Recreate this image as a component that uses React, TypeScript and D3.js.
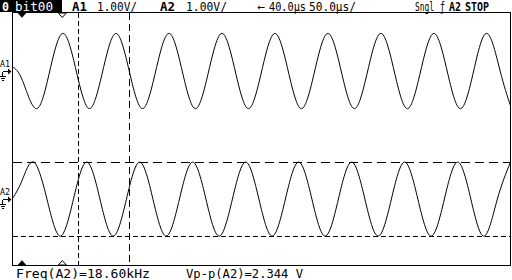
import React from "react";
import * as d3 from "d3";

// ---- data (time in µs, voltage in V) ----
const a1Time = [0, 10, 24.1, 37.4, 50.7, 64.0, 77.3, 90.6, 103.9, 117.2, 130.5, 143.8, 157.1, 170.4, 183.7, 197.0, 210.3, 223.6, 236.9, 250.2, 263.5, 276.8, 290.1, 303.4, 316.7, 330.0, 343.3, 356.6, 369.9, 383.2, 396.5, 409.8, 423.1, 436.4, 449.7, 463.0, 476.3, 489.6, 500];
const a1Volt = [0.13, -0.3, -1.19, 0, 1.19, 0, -1.19, 0, 1.19, 0, -1.19, 0, 1.19, 0, -1.19, 0, 1.19, 0, -1.19, 0, 1.19, 0, -1.19, 0, 1.19, 0, -1.19, 0, 1.19, 0, -1.19, 0, 1.19, 0, -1.19, 0, 1.19, 0, -1.1];

const a2Time = [0, 9.5, 21.3, 34.6, 47.9, 61.2, 74.5, 87.8, 101.1, 114.4, 127.7, 141.0, 154.3, 167.6, 180.9, 194.2, 207.5, 220.8, 234.1, 247.4, 260.7, 274.0, 287.3, 300.6, 313.9, 327.2, 340.5, 353.8, 367.1, 380.4, 393.7, 407.0, 420.3, 433.6, 446.9, 460.2, 473.5, 486.8, 500];
const a2Volt = [0.02, 0.58, 1.17, 0, -1.17, 0, 1.17, 0, -1.17, 0, 1.17, 0, -1.17, 0, 1.17, 0, -1.17, 0, 1.17, 0, -1.17, 0, 1.17, 0, -1.17, 0, 1.17, 0, -1.17, 0, 1.17, 0, -1.17, 0, 1.17, 0, -1.17, 0, 1.17];

const channelOffsets = [2.15, -1.9]; // divisions (V at 1 V/div)
const channelNames = ["A1", "A2"];
const timeCursors = [65.5, 117.3];
const voltCursors = [1.18, -1.18]; // relative to A2
const markerTimes = [9.5, 50];

const headerItems = [
  { text: "0", x: 2, w: 7, bold: true, white: true },
  { text: "bit00", x: 15, w: 38, bold: false, white: true },
  { text: "A1", x: 72, w: 15, bold: true, white: false },
  { text: "1.00V/", x: 97, w: 40, bold: false, white: false },
  { text: "A2", x: 160, w: 15, bold: true, white: false },
  { text: "1.00V/", x: 186, w: 41, bold: false, white: false },
  { text: "←", x: 257, w: 8, bold: false, white: false },
  { text: "40.0µs", x: 269, w: 37, bold: false, white: false },
  { text: "50.0µs/", x: 309, w: 47, bold: false, white: false },
  { text: "Sngl", x: 415, w: 19, bold: false, white: false },
  { text: "ƒ", x: 440, w: 5, bold: false, white: false },
  { text: "A2", x: 449, w: 12, bold: true, white: false },
  { text: "STOP", x: 465, w: 24, bold: true, white: false },
];
const footerItems = [
  { text: "Freq(A2)=18.60kHz", x: 16, w: 134 },
  { text: "Vp-p(A2)=2.344 V", x: 186, w: 117 },
];

const W = 512, H = 280;
const L = 12.5, R = 510.5, T = 12.5, B = 265.5;
const FONT = "'DejaVu Sans Mono', 'Liberation Mono', monospace";

export default function App() {
  const x = d3.scaleLinear().domain([0, 500]).range([L, R]);
  const y = d3.scaleLinear().domain([-4, 4]).range([B, T]);

  const line = (off: number) =>
    d3
      .line<[number, number]>()
      .x((d) => x(d[0]))
      .y((d) => y(d[1] + off))
      .curve(d3.curveNatural);

  const a1 = a1Time.map((t, i) => [t, a1Volt[i]] as [number, number]);
  const a2 = a2Time.map((t, i) => [t, a2Volt[i]] as [number, number]);

  const groundMarker = (cy: number, name: string, key: number) => (
    <g key={key}>
      <text x={0} y={cy - 4} fontFamily={FONT} fontSize={8} textLength={10} lengthAdjust="spacingAndGlyphs">
        {name}
      </text>
      <path d={`M2.5,${cy + 0.5}H9`} stroke="#000" fill="none" shapeRendering="crispEdges" />
      <path d={`M8,${cy - 2.5}L11.5,${cy + 0.5}L8,${cy + 3.5}Z`} fill="#000" />
      <path d={`M2.5,${cy + 0.5}V${cy + 5}`} stroke="#000" fill="none" shapeRendering="crispEdges" />
      <path d={`M0,${cy + 5.5}H6M1,${cy + 7.5}H5M2,${cy + 9.5}H4`} stroke="#000" fill="none" shapeRendering="crispEdges" />
    </g>
  );

  return (
    <svg
      width={W}
      height={H}
      style={{ position: "fixed", left: 0, top: 0, background: "#fff" }}
      xmlns="http://www.w3.org/2000/svg"
    >
      <rect x={0} y={0} width={W} height={H} fill="#fff" />
      {/* header */}
      <rect x={0} y={0} width={62} height={12} fill="#000" />
      {headerItems.map((h, i) => (
        <text
          key={i}
          x={h.x}
          y={10.5}
          fontFamily={FONT}
          fontSize={h.bold ? 13 : 12}
          fontWeight={h.bold ? "bold" : "normal"}
          fill={h.white ? "#fff" : "#000"}
          textLength={h.w}
          lengthAdjust="spacingAndGlyphs"
        >
          {h.text}
        </text>
      ))}
      {/* frame */}
      <rect x={L} y={T} width={R - L} height={B - T} fill="none" stroke="#000" strokeWidth={1} shapeRendering="crispEdges" />
      {/* time cursors */}
      {timeCursors.map((t, i) => (
        <line
          key={i}
          x1={Math.round(x(t)) + 0.5}
          x2={Math.round(x(t)) + 0.5}
          y1={T}
          y2={B}
          stroke="#000"
          strokeDasharray={i === 0 ? "5 3" : "7 4"}
          shapeRendering="crispEdges"
        />
      ))}
      {/* voltage cursors */}
      {voltCursors.map((v, i) => (
        <line
          key={i}
          x1={L}
          x2={R}
          y1={Math.round(y(v + channelOffsets[1])) + 0.5}
          y2={Math.round(y(v + channelOffsets[1])) + 0.5}
          stroke="#000"
          strokeDasharray={i === 0 ? "9 5" : "5 3"}
          shapeRendering="crispEdges"
        />
      ))}
      {/* waveforms */}
      <path d={line(channelOffsets[0])(a1) || ""} fill="none" stroke="#000" strokeWidth={1} />
      <path d={line(channelOffsets[1])(a2) || ""} fill="none" stroke="#000" strokeWidth={1} />
      {/* markers */}
      {markerTimes.map((t, i) => {
        const cx = x(t);
        const filled = i === 0;
        return (
          <g key={i}>
            <path
              d={`M${cx - 4},${T + 0.5}L${cx + 4},${T + 0.5}L${cx},${T + 5}Z`}
              fill={filled ? "#000" : "#fff"}
              stroke="#000"
              strokeWidth={filled ? 0.5 : 1}
            />
            <path
              d={`M${cx - 4},${B - 0.5}L${cx + 4},${B - 0.5}L${cx},${B - 5}Z`}
              fill={filled ? "#000" : "#fff"}
              stroke="#000"
              strokeWidth={filled ? 0.5 : 1}
            />
          </g>
        );
      })}
      {/* channel ground markers */}
      {channelOffsets.map((o, i) => groundMarker(Math.round(y(o)), channelNames[i], i))}
      {/* footer */}
      {footerItems.map((f, i) => (
        <text key={i} x={f.x} y={277.5} fontFamily={FONT} fontSize={12} textLength={f.w} lengthAdjust="spacingAndGlyphs">
          {f.text}
        </text>
      ))}
    </svg>
  );
}
